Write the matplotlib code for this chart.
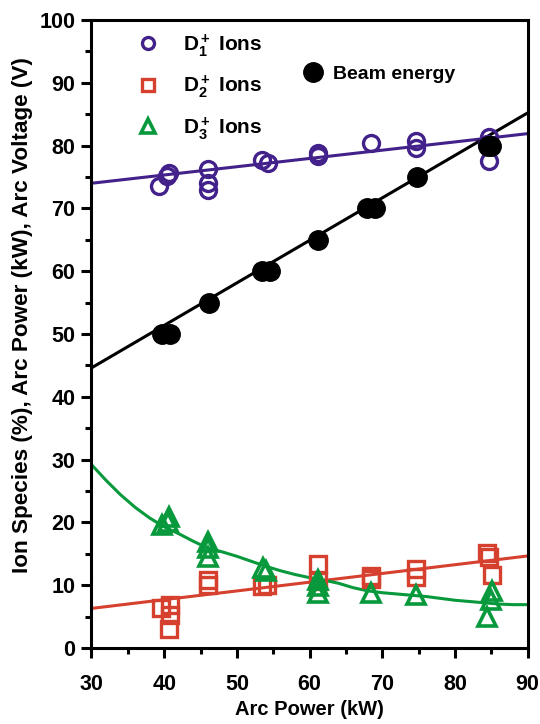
import numpy as np
import matplotlib
matplotlib.use("Agg")
import matplotlib.pyplot as plt
from matplotlib.ticker import MultipleLocator

plt.rcParams['font.family'] = ['Liberation Sans', 'DejaVu Sans']
plt.rcParams['font.weight'] = 'bold'
plt.rcParams['mathtext.fontset'] = 'custom'
plt.rcParams['mathtext.rm'] = 'Liberation Sans:bold'
plt.rcParams['mathtext.bf'] = 'Liberation Sans:bold'
plt.rcParams['mathtext.it'] = 'Liberation Sans:bold'
plt.rcParams['mathtext.default'] = 'bf'

# ---- measured points ----
d1_x = [39.3, 40.4, 40.7, 46.1, 46.1, 46.1, 53.5, 54.3, 61.1, 61.1, 68.4, 74.7, 74.7, 84.4, 84.7, 84.7]
d1_y = [73.5, 75.1, 75.7, 76.2, 74.0, 73.0, 77.7, 77.3, 78.8, 78.3, 80.4, 80.8, 79.6, 80.3, 81.4, 77.5]

d2_x = [39.6, 40.8, 40.8, 40.7, 46.1, 46.1, 53.5, 54.1, 61.2, 61.2, 68.5, 68.5, 74.7, 74.7, 84.4, 84.7, 85.1]
d2_y = [6.3, 6.9, 5.3, 3.1, 10.9, 10.0, 9.8, 10.1, 13.4, 10.6, 11.4, 11.0, 12.6, 11.3, 15.1, 14.5, 11.6]

d3_x = [39.7, 40.7, 40.5, 46.1, 46.1, 46.1, 53.6, 54.0, 61.2, 61.2, 61.2, 68.5, 74.7, 85.1, 85.0, 84.4]
d3_y = [19.6, 20.9, 20.0, 16.9, 15.9, 14.5, 12.7, 12.2, 10.8, 9.8, 8.7, 8.7, 8.4, 9.0, 7.7, 5.0]

beam_x = [39.7, 40.8, 46.2, 53.4, 54.6, 61.2, 67.9, 69.0, 74.8, 84.5, 85.0]
beam_y = [50, 50, 55, 60, 60, 65, 70, 70, 75, 80, 80]

# ---- trend lines ----
fit_x = [30, 90]
d1_fit = [74.0, 81.9]
beam_fit = [44.6, 85.2]
d2_fit = [6.3, 14.65]

d3_curve_x = [30, 32, 34, 36, 38, 40, 42, 44, 46, 48, 50, 52, 54, 56, 58, 60,
              62, 64, 66, 68, 70, 72, 74, 76, 78, 80, 82, 84, 86, 88, 90]
d3_curve_y = [29.2, 26.7, 24.4, 22.4, 20.7, 19.3, 18.2, 17.0, 15.9, 15.3, 14.6, 13.8,
              13.0, 12.3, 11.7, 11.2, 10.8, 10.3, 9.6, 9.1, 8.8, 8.6, 8.4, 8.2, 7.9,
              7.6, 7.4, 7.2, 7.0, 6.9, 6.9]

PURPLE = '#43218a'
RED = '#d6402e'
GREEN = '#07993b'

fig = plt.figure(figsize=(5.4, 7.24), dpi=100)
ax = fig.add_axes([0.1694, 0.105, 0.8076, 0.8674])

ax.plot(fit_x, d1_fit, color=PURPLE, lw=2.2, zorder=2)
ax.plot(fit_x, beam_fit, color='black', lw=2.2, zorder=2)
ax.plot(fit_x, d2_fit, color=RED, lw=2.2, zorder=2)
ax.plot(d3_curve_x, d3_curve_y, color=GREEN, lw=2.2, zorder=2)

h1, = ax.plot(d1_x, d1_y, 'o', ms=11.5, mfc='none', mec=PURPLE, mew=2.4, zorder=3,
              label=r'D$_1^+$ Ions')
h2, = ax.plot(d2_x, d2_y, 's', ms=11.5, mfc='none', mec=RED, mew=2.4, zorder=3,
              label=r'D$_2^+$ Ions')
h3, = ax.plot(d3_x, d3_y, '^', ms=12.5, mfc='none', mec=GREEN, mew=2.6, zorder=3,
              label=r'D$_3^+$ Ions')
h4, = ax.plot(beam_x, beam_y, 'o', ms=14, color='black', zorder=4, label='Beam energy')

leg1 = ax.legend(handles=[h1, h2, h3], loc='upper left', bbox_to_anchor=(0.072, 1.004),
                 frameon=False, fontsize=15, markerscale=0.75, handlelength=1.0,
                 handletextpad=1.2, labelspacing=0.7, borderpad=0.2)
ax.add_artist(leg1)
ax.legend(handles=[h4], loc='upper left', bbox_to_anchor=(0.455, 0.95),
          frameon=False, fontsize=14, handlelength=1.0, handletextpad=0.5,
          borderpad=0.2)

ax.set_xlim(30, 90)
ax.set_ylim(0, 100)
ax.xaxis.set_major_locator(MultipleLocator(10))
ax.xaxis.set_minor_locator(MultipleLocator(5))
ax.yaxis.set_major_locator(MultipleLocator(10))
ax.yaxis.set_minor_locator(MultipleLocator(5))

for s in ax.spines.values():
    s.set_linewidth(2.2)
ax.tick_params(which='major', direction='out', length=7.5, width=2.2, labelsize=15.5)
ax.tick_params(axis='y', which='major', pad=4)
ax.tick_params(axis='x', which='major', pad=11)
ax.tick_params(which='minor', direction='out', length=4, width=2.2)
ax.tick_params(top=False, right=False, which='both')

ax.set_xlabel('Arc Power (kW)', fontsize=14.5, fontweight='bold', labelpad=4)
ax.set_ylabel('Ion Species (%), Arc Power (kW), Arc Voltage (V)', fontsize=16.2,
              fontweight='bold')
ax.yaxis.set_label_coords(-0.135, 0.53)

fig.savefig('out.png', dpi=100)
